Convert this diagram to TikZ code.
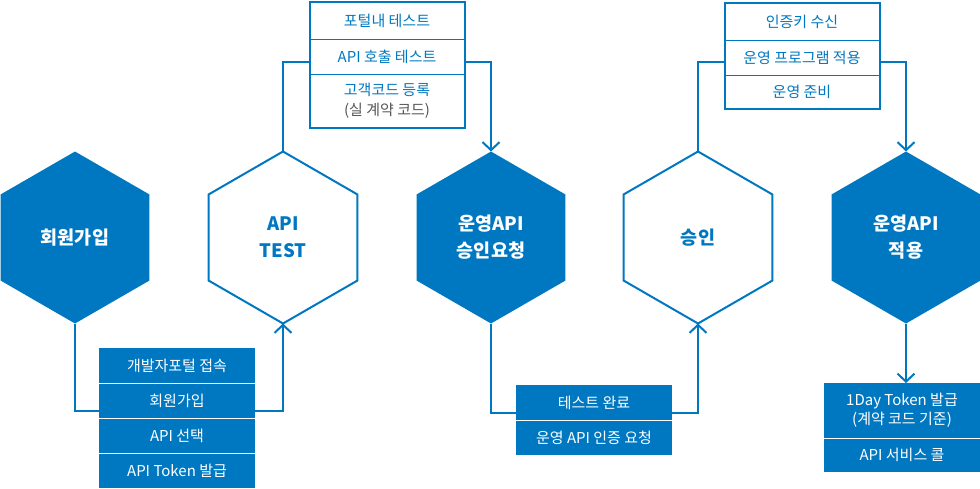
\documentclass[tikz,border=0pt]{standalone}
\usepackage{fontspec}
\setmainfont{Noto Sans CJK KR}
\usetikzlibrary{shapes.geometric,arrows.meta}
\definecolor{apiblue}{RGB}{0,120,193}
\definecolor{notegray}{RGB}{85,85,85}

\begin{document}
\begin{tikzpicture}[
  x=1pt,
  y=-1pt,
  hex/.style={regular polygon, regular polygon sides=6, shape border rotate=30, minimum size=172pt, inner sep=0pt, outer sep=0pt, align=center, font=\fontsize{18.5}{27}\selectfont\bfseries},
  hexfill/.style={hex, fill=apiblue, text=white},
  hexline/.style={hex, draw=apiblue, line width=2pt, fill=white, text=apiblue},
  linerow/.style={draw=apiblue, line width=1pt, minimum width=155pt, inner sep=0pt, outer sep=0pt, align=center, text=apiblue, font=\fontsize{15}{20}\selectfont},
  solidrow/.style={fill=apiblue, minimum width=156pt, minimum height=35pt, inner sep=0pt, outer sep=0pt, align=center, text=white, font=\fontsize{15}{18.5}\selectfont},
  link/.style={draw=apiblue, line width=2pt},
  arrow/.style={link, -{Straight Barb[length=8pt,width=17pt]}}
]
\useasboundingbox (0,0) rectangle (980,488);

% process hexagons
\node[hexfill] (join) at (75,237.5) {회원가입};
\node[hexline] (test) at (283,237.5) {API\\TEST};
\node[hexfill] (request) at (491,237.5) {운영API\\승인요청};
\node[hexline] (approve) at (698,237.5) {승인};
\node[hexfill] (apply) at (906,237.5) {운영API\\적용};

% sign-up steps
\foreach \t [count=\i] in {개발자포털 접속, 회원가입, API 선택, API Token 발급} {
  \node[solidrow] (sign\i) at (177,330.5+35*\i) {\t};
}
\foreach \i in {1,2,3}
  \draw[white, line width=1pt] (sign\i.south west) -- (sign\i.south east);

% test steps
\node[linerow, minimum height=37.5pt] (check1) at (387,20.5) {포털내 테스트};
\node[linerow, minimum height=35pt] (check2) at (387,56.8) {API 호출 테스트};
\node[linerow, minimum height=53.7pt] (check3) at (387,101.2) {고객코드 등록\\\textcolor{notegray}{(실 계약 코드)}};
\draw[apiblue, line width=2pt] (check1.north west) rectangle (check3.south east);

% request steps
\foreach \t [count=\i] in {테스트 완료, 운영 API 인증 요청} {
  \node[solidrow] (done\i) at (594,367.5+35*\i) {\t};
}
\draw[white, line width=1pt] (done1.south west) -- (done1.south east);

% approval steps
\node[linerow, minimum height=38.2pt] (run1) at (802,21.6) {인증키 수신};
\node[linerow, minimum height=34.6pt] (run2) at (802,58) {운영 프로그램 적용};
\node[linerow, minimum height=34pt] (run3) at (802,92.3) {운영 준비};
\draw[apiblue, line width=2pt] (run1.north west) rectangle (run3.south east);

% apply steps
\node[solidrow, minimum height=55pt] (issue1) at (902,410.5) {1Day Token 발급\\(계약 코드 기준)};
\node[solidrow, minimum height=34pt] (issue2) at (902,455) {API 서비스 콜};
\draw[white, line width=1pt] (issue1.south west) -- (issue1.south east);

% connectors
\draw[link] (join.south) |- ([yshift=-10.5pt]sign2.west);
\draw[arrow] ([yshift=-10.5pt]sign2.east) -| (test.south);
\draw[link] (test.north) |- ([yshift=-5pt]check2.west);
\draw[arrow] ([yshift=-5pt]check2.east) -| (request.north);
\draw[link] (request.south) |- ([yshift=-10pt]done1.west);
\draw[arrow] ([yshift=-10pt]done1.east) -| (approve.south);
\draw[link] (approve.north) |- ([yshift=-3.7pt]run2.west);
\draw[arrow] ([yshift=-3.7pt]run2.east) -| (apply.north);
\draw[arrow] (apply.south) -- (apply.south |- issue1.north);
\end{tikzpicture}
\end{document}
